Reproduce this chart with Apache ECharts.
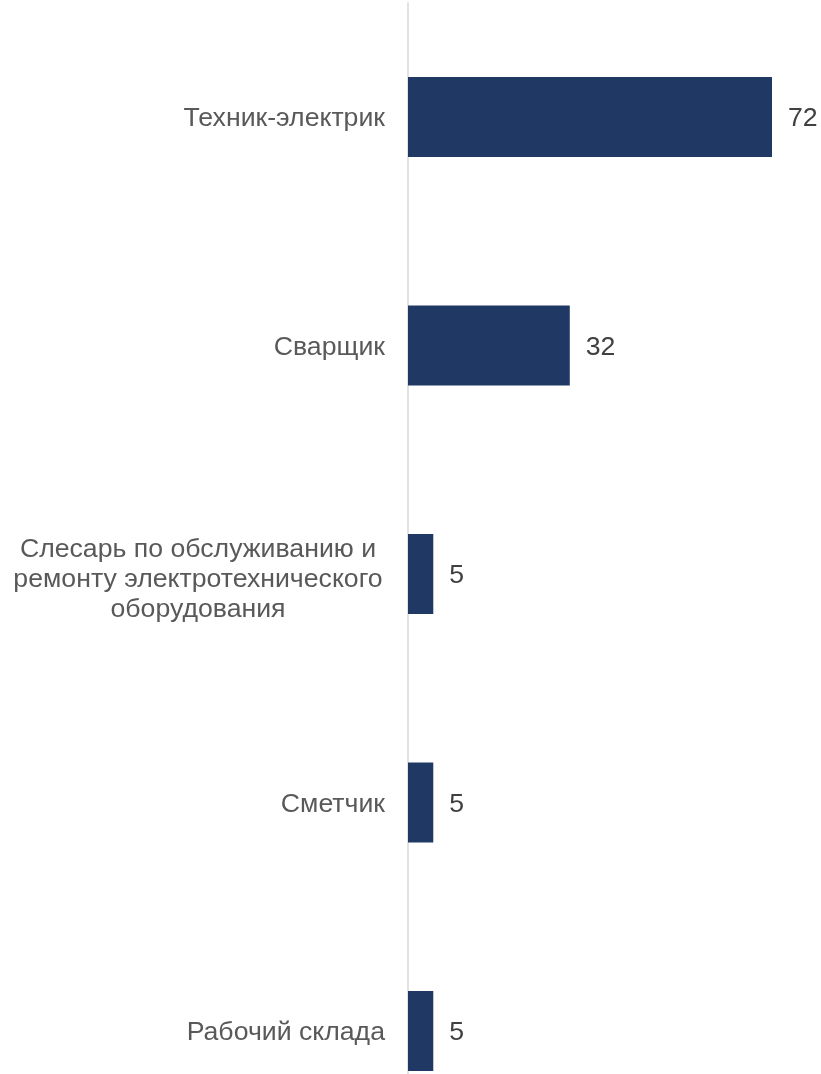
<!DOCTYPE html>
<html>
<head>
<meta charset="utf-8">
<script src="https://cdn.jsdelivr.net/npm/echarts@6/dist/echarts.min.js"></script>
<style>
html,body{margin:0;padding:0;background:#fff;overflow:hidden;}
#chart{width:821px;height:1160px;}
</style>
</head>
<body>
<div id="chart"></div>
<script>
const categories = [
  'Техник-электрик',
  'Сварщик',
  'Слесарь по обслуживанию и\nремонту электротехнического\nоборудования',
  'Сметчик',
  'Рабочий склада'
];
const values = [72, 32, 5, 5, 5];

const FONT = 'Liberation Sans, Arial, sans-serif';
const yData = categories.map(c => c.indexOf('\n') >= 0
  ? { value: c, textStyle: { padding: [12, 0, 0, 0] } }
  : c);

const chart = echarts.init(document.getElementById('chart'));
chart.setOption({
  animation: false,
  grid: { left: 408, top: 2.75, width: 364, height: 1142.5, containLabel: false },
  xAxis: {
    type: 'value', min: 0, max: 72, show: false
  },
  yAxis: {
    type: 'category',
    data: yData,
    inverse: true,
    axisLine: { show: true, lineStyle: { color: '#d9d9d9', width: 1.5 } },
    axisTick: { show: false },
    axisLabel: {
      margin: 23,
      fontFamily: FONT,
      fontSize: 26.67,
      color: '#595959',
      lineHeight: 30,
      padding: [4, 0, 0, 0],
      formatter: function (v) {
        if (v.indexOf('\n') >= 0) {
          return v.split('\n').map(s => '{c|' + s + '}').join('\n');
        }
        return v;
      },
      rich: {
        c: { width: 374, align: 'center', fontSize: 26.67, lineHeight: 30,
             fontFamily: FONT, color: '#595959' }
      }
    }
  },
  series: [{
    type: 'bar',
    data: values,
    barWidth: 80,
    itemStyle: { color: '#1f3864' },
    label: {
      show: true, position: 'right', distance: 16,
      offset: [0, 2],
      fontFamily: FONT,
      fontSize: 26.67, color: '#404040'
    }
  }]
});
</script>
</body>
</html>
